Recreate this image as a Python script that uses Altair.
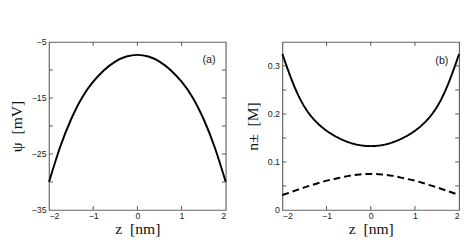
import altair as alt
import pandas as pd

# ---- data ----
z = [-2.0, -1.75, -1.5, -1.25, -1.0, -0.75, -0.5, -0.25, 0.0,
     0.25, 0.5, 0.75, 1.0, 1.25, 1.5, 1.75, 2.0]
psi = [-30.0, -23.8, -18.8, -14.9, -12.1, -10.0, -8.5, -7.6, -7.3,
       -7.6, -8.5, -10.0, -12.1, -14.9, -18.8, -23.8, -30.0]
n_plus = [0.325, 0.262, 0.215, 0.185, 0.165, 0.151, 0.141, 0.135, 0.133,
          0.135, 0.141, 0.151, 0.165, 0.185, 0.215, 0.262, 0.325]
n_minus = [0.031, 0.039, 0.047, 0.054, 0.061, 0.066, 0.071, 0.074, 0.075,
           0.074, 0.071, 0.066, 0.061, 0.054, 0.047, 0.039, 0.031]

x_ticks_minor = [-1, 0, 1]
psi_ticks = [-30, -25, -20, -15, -10]
psi_labels = [-35, -25, -15, -5]
n_ticks = [0.05, 0.1, 0.15, 0.2, 0.25, 0.3]
n_labels = [0, 0.1, 0.2, 0.3]
x_labels = [-2, -1, 0, 1, 2]

W, H = 181, 172
TL = 4  # inward tick length
NB = "\u00a0"

df_psi = pd.DataFrame({"z": z, "v": psi})
df_n = pd.DataFrame({"z": z + z, "v": n_plus + n_minus,
                     "s": ["plus"] * len(z) + ["minus"] * len(z)})

xscale = alt.Scale(domain=[-2, 2], nice=False, zero=False)
xaxis = alt.Axis(values=x_labels, title="z" + NB * 2 + "[nm]", format="d")


def panel(line, label_df, ticks_y, yscale, yaxis):
    xs = lambda f: alt.X(f, scale=xscale, axis=xaxis)
    ys = lambda f: alt.Y(f, scale=yscale, axis=yaxis)
    dx = pd.DataFrame({"t": x_ticks_minor})
    dy = pd.DataFrame({"t": ticks_y})
    bx = alt.Chart(dx).mark_rule(color="#555", strokeWidth=1)
    by = alt.Chart(dy).mark_rule(color="#555", strokeWidth=1)
    layers = [
        line.encode(x=xs("z:Q"), y=ys("v:Q")),
        alt.Chart(label_df).mark_text(font="Liberation Sans", fontSize=11, color="#222")
        .encode(x=xs("z:Q"), y=ys("v:Q"), text="t:N"),
        bx.encode(x=xs("t:Q"), y=alt.value(H), y2=alt.value(H - TL)),
        bx.encode(x=xs("t:Q"), y=alt.value(0), y2=alt.value(TL)),
        by.encode(y=ys("t:Q"), x=alt.value(0), x2=alt.value(TL)),
        by.encode(y=ys("t:Q"), x=alt.value(W), x2=alt.value(W - TL)),
    ]
    return alt.layer(*layers).properties(width=W, height=H)


# ---- panel (a) ----
yscale_a = alt.Scale(domain=[-35, -5], nice=False, zero=False)
yaxis_a = alt.Axis(values=psi_labels, title="\u03c8" + NB * 2 + "[mV]", format="d")
line_a = alt.Chart(df_psi).mark_line(color="black", strokeWidth=2, interpolate="natural")
panel_a = panel(line_a, pd.DataFrame({"z": [1.62], "v": [-8.3], "t": ["(a)"]}),
                psi_ticks, yscale_a, yaxis_a)

# ---- panel (b) ----
yscale_b = alt.Scale(domain=[0, 0.35], nice=False, zero=False)
yaxis_b = alt.Axis(values=n_labels, title=NB * 4 + "n\u00b1" + NB * 2 + "[M]", format="~g")
line_b = alt.Chart(df_n).mark_line(
    color="black", strokeWidth=2, interpolate="natural"
).encode(
    detail="s:N",
    strokeDash=alt.StrokeDash("s:N", scale=alt.Scale(domain=["plus", "minus"],
                                                      range=[[1, 0], [7, 4]]), legend=None),
)
panel_b = panel(line_b, pd.DataFrame({"z": [1.61], "v": [0.311], "t": ["(b)"]}),
                n_ticks, yscale_b, yaxis_b)

chart = alt.hconcat(panel_a, panel_b, spacing=14).properties(
    padding={"left": 0, "top": 27, "right": 0, "bottom": 0}
).configure_view(
    stroke="#666", strokeWidth=1.2
).configure_axis(
    domain=False, ticks=False, grid=False,
    labelFont="Liberation Sans", labelFontSize=9, labelColor="#222", labelPadding=3,
    titleFont="Liberation Serif", titleFontSize=16, titleFontWeight="normal",
    titleColor="#111", titlePadding=6.5,
).configure_axisX(titlePadding=0, labelPadding=2)

chart.save("out.html", embed_options={"renderer": "svg", "actions": False})
